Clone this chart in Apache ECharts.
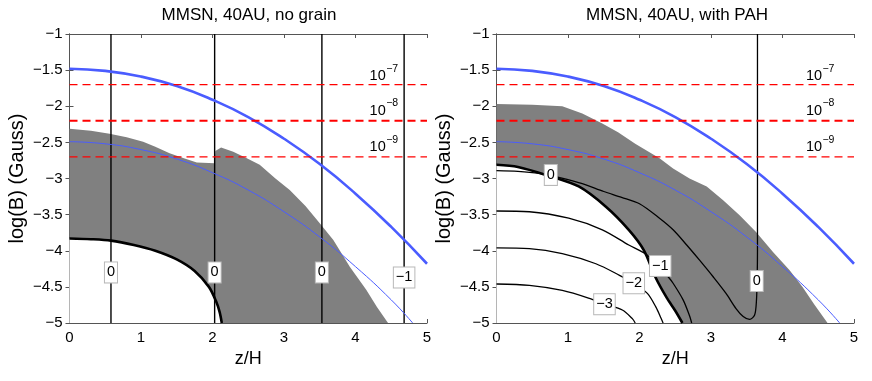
<!DOCTYPE html>
<html>
<head>
<meta charset="utf-8">
<script src="https://cdn.jsdelivr.net/npm/echarts@6/dist/echarts.min.js"></script>
<style>
html, body { margin: 0; padding: 0; background: #fff; }
#main { width: 872px; height: 381px; }
</style>
</head>
<body>
<div id="main"></div>
<script>
// field strength curves, same in both panels
var bX = [0, 0.5, 1, 1.5, 2, 2.5, 3, 3.5, 4, 4.5, 5];
var bThick = [-1.48, -1.51, -1.59, -1.72, -1.91, -2.15, -2.45, -2.80, -3.21, -3.67, -4.18];
var bThinX = [0, 0.5, 1, 1.5, 2, 2.5, 3, 3.5, 4, 4.5, 4.8];
var bThin = [-2.49, -2.52, -2.60, -2.73, -2.92, -3.16, -3.46, -3.81, -4.22, -4.68, -5.0];

// dashed levels and their labels (10^-7 .. 10^-9)
var levelY = [-1.7, -2.2, -2.7];
var levelExp = ['−7', '−8', '−9'];
var levelLabelY = [-1.58, -2.06, -2.56];
var levelLabelX = [4.31, 4.44];

// panel 1: no grain
var ngGrayTop = [[0, -2.31], [0.3, -2.34], [0.56, -2.38], [0.8, -2.43], [1.03, -2.49], [1.2, -2.56], [1.4, -2.65],
  [1.6, -2.72], [1.78, -2.78], [2.03, -2.79], [2.04, -2.62], [2.12, -2.57], [2.29, -2.63], [2.48, -2.72],
  [2.66, -2.81], [2.88, -3.0], [3.08, -3.16], [3.3, -3.38], [3.5, -3.62], [3.69, -3.85], [3.92, -4.22],
  [4.15, -4.54], [4.3, -4.78], [4.455, -5]];
var ngEdge = [[0, -3.83], [0.3, -3.84], [0.58, -3.86], [0.9, -3.92], [1.2, -4.0], [1.5, -4.12], [1.75, -4.28],
  [1.95, -4.5], [2.05, -4.7], [2.1, -4.85], [2.13, -5]];
var ngVertX = [0.58, 2.03, 3.53, 4.68];
var ngLabels = [['0', 0.58, -4.3], ['0', 2.03, -4.3], ['0', 3.53, -4.3], ['−1', 4.68, -4.37]];

// panel 2: with PAH
var pahGrayTop = [[0, -1.97], [0.5, -1.98], [0.92, -2.0], [1.2, -2.1], [1.48, -2.24], [1.7, -2.36], [1.94, -2.52],
  [2.28, -2.72], [2.47, -2.86], [2.7, -3.0], [2.94, -3.11], [3.17, -3.3], [3.4, -3.51], [3.63, -3.74],
  [3.87, -4.02], [4.1, -4.27], [4.28, -4.5], [4.45, -4.75], [4.63, -5]];
var pahEdge = [[0, -2.81], [0.3, -2.84], [0.69, -2.95], [1.15, -3.11], [1.53, -3.39], [1.85, -3.71], [2.06, -3.99],
  [2.22, -4.36], [2.38, -4.65], [2.5, -4.83], [2.6, -5]];
var pahC0 = [[0, -2.89], [0.3, -2.9], [0.6, -2.93], [0.9, -2.99], [1.2, -3.07], [1.5, -3.18], [1.75, -3.26],
  [2.0, -3.35], [2.28, -3.55], [2.47, -3.71], [2.66, -3.92], [2.84, -4.13], [3.03, -4.36], [3.21, -4.59],
  [3.35, -4.8], [3.45, -4.91], [3.54, -4.95], [3.61, -4.89], [3.635, -4.7], [3.645, -4.4], [3.65, -4.0], [3.65, -1]];
var pahC1 = [[0, -3.45], [0.46, -3.46], [1.01, -3.55], [1.48, -3.71], [1.85, -3.92], [2.08, -4.04], [2.25, -4.2],
  [2.4, -4.36], [2.47, -4.45], [2.61, -4.68], [2.7, -4.9], [2.73, -5]];
var pahC2 = [[0, -3.96], [0.46, -3.97], [0.92, -4.04], [1.39, -4.18], [1.72, -4.34], [1.92, -4.45], [2.11, -4.59],
  [2.23, -4.78], [2.3, -4.93], [2.33, -5]];
var pahC3 = [[0, -4.46], [0.46, -4.48], [0.92, -4.55], [1.3, -4.66], [1.51, -4.74], [1.76, -4.82], [1.9, -4.94], [1.94, -5]];
var pahLabels = [['0', 0.76, -2.95], ['−1', 2.29, -4.21], ['−2', 1.92, -4.45], ['−3', 1.51, -4.74], ['0', 3.64, -4.42]];

var titles = ['MMSN, 40AU, no grain', 'MMSN, 40AU, with PAH'];

var FONT = '"Liberation Sans", Arial, Helvetica, sans-serif';
var AXIS_COLOR = '#555';
var BLUE = '#4a5cff';

function zip(xs, ys) {
  return xs.map(function (x, i) { return [x, ys[i]]; });
}

function minus(v) {
  return (v < 0 ? '−' : '') + Math.abs(v);
}

var grids = [
  { left: 69.5, top: 34, width: 357.5, height: 289 },
  { left: 496.5, top: 34, width: 357.5, height: 289 }
];

var xAxes = [], yAxes = [];
grids.forEach(function (g, gi) {
  var tick = { show: true, inside: true, length: 4, lineStyle: { color: AXIS_COLOR } };
  var line = { show: true, lineStyle: { color: AXIS_COLOR, width: 1 } };
  xAxes.push({
    type: 'value', gridIndex: gi, min: 0, max: 5, interval: 1,
    axisLine: line, axisTick: tick, splitLine: { show: false },
    axisLabel: { color: '#000', fontSize: 15, fontFamily: FONT, margin: 7 },
    name: 'z/H', nameLocation: 'middle', nameGap: 21,
    nameTextStyle: { color: '#000', fontSize: 18, fontFamily: FONT }
  });
  xAxes.push({
    type: 'value', gridIndex: gi, min: 0, max: 5, interval: 1, position: 'top',
    axisLine: line, axisTick: tick, splitLine: { show: false }, axisLabel: { show: false }
  });
  yAxes.push({
    type: 'value', gridIndex: gi, min: -5, max: -1, interval: 0.5,
    axisLine: line, axisTick: tick, splitLine: { show: false },
    axisLabel: { color: '#000', fontSize: 15, fontFamily: FONT, margin: 7, formatter: minus },
    name: 'log(B) (Gauss)', nameLocation: 'middle', nameGap: 42,
    nameTextStyle: { color: '#000', fontSize: 20, fontFamily: FONT }
  });
  yAxes.push({
    type: 'value', gridIndex: gi, min: -5, max: -1, interval: 0.5, position: 'right',
    axisLine: line, axisTick: tick, splitLine: { show: false }, axisLabel: { show: false }
  });
});

function ln(gi, data, color, width, z, extra) {
  var s = {
    type: 'line', xAxisIndex: gi * 2, yAxisIndex: gi * 2, data: data,
    showSymbol: false, symbol: 'none', silent: true, animation: false, z: z,
    lineStyle: { color: color, width: width }
  };
  if (extra) Object.keys(extra).forEach(function (k) { s[k] = extra[k]; });
  return s;
}

function textSeries(gi, data, label) {
  label.show = true;
  label.position = 'inside';
  label.color = '#000';
  label.opacity = 1;
  label.fontFamily = FONT;
  return {
    type: 'scatter', xAxisIndex: gi * 2, yAxisIndex: gi * 2, symbolSize: 0, z: 20, silent: true, animation: false,
    itemStyle: { opacity: 1 }, data: data, label: label
  };
}

function panelSeries(gi, grayTop, edge, vertX, labels, contours) {
  var out = [];
  out.push(ln(gi, grayTop, '#808080', 0, 1, { areaStyle: { color: '#808080', opacity: 1, origin: 'start' } }));
  out.push(ln(gi, edge, '#fff', 0, 2, { areaStyle: { color: '#fff', opacity: 1, origin: 'start' } }));
  contours.forEach(function (c) {
    out.push(ln(gi, c, '#000', 1.3, 4, { smooth: 0.3 }));
  });
  out.push(ln(gi, edge, '#000', 2.6, 5, { smooth: 0.3 }));
  vertX.forEach(function (x) {
    out.push(ln(gi, [[x, -5], [x, -1]], '#000', 1.4, 6));
  });
  out.push(ln(gi, zip(bX, bThick), BLUE, 2.6, 7, { smooth: true }));
  out.push(ln(gi, zip(bThinX, bThin), BLUE, 1, 7, { smooth: true }));
  levelY.forEach(function (y, i) {
    out.push(ln(gi, [[0, y], [5, y]], '#ff0000', i === 1 ? 2 : 1.1, 8, {
      lineStyle: { color: '#ff0000', width: i === 1 ? 2 : 1.1, type: [8, 5] }
    }));
  });
  // level labels: "10" with a raised exponent
  var pts = levelLabelY.map(function (y, i) { return { name: levelExp[i], value: [levelLabelX[gi], y] }; });
  out.push(textSeries(gi, pts, { formatter: '10', fontSize: 14.5 }));
  out.push(textSeries(gi, pts, { formatter: '{b}', offset: [14.5, -7], fontSize: 10.5 }));
  // contour value boxes
  var boxes = labels.map(function (it) { return { name: it[0], value: [it[1], it[2]] }; });
  out.push(textSeries(gi, boxes, {
    formatter: '{b}', fontSize: 14.5,
    backgroundColor: '#fff', borderColor: '#b8b8b8', borderWidth: 1, padding: [3, 2, 2, 2]
  }));
  return out;
}

var series = []
  .concat(panelSeries(0, ngGrayTop, ngEdge, ngVertX, ngLabels, []))
  .concat(panelSeries(1, pahGrayTop, pahEdge, [], pahLabels, [pahC0, pahC1, pahC2, pahC3]));

var titleX = [249, 677];
var graphic = titles.map(function (t, i) {
  return {
    type: 'text', x: titleX[i], y: 15,
    style: {
      text: t, fill: '#000', font: '17px ' + FONT,
      textAlign: 'center', textVerticalAlign: 'middle', align: 'center', verticalAlign: 'middle'
    }
  };
});

var chart = echarts.init(document.getElementById('main'), null, { renderer: 'canvas' });
chart.setOption({
  animation: false,
  backgroundColor: '#fff',
  grid: grids,
  xAxis: xAxes,
  yAxis: yAxes,
  graphic: graphic,
  series: series
});
</script>
</body>
</html>
